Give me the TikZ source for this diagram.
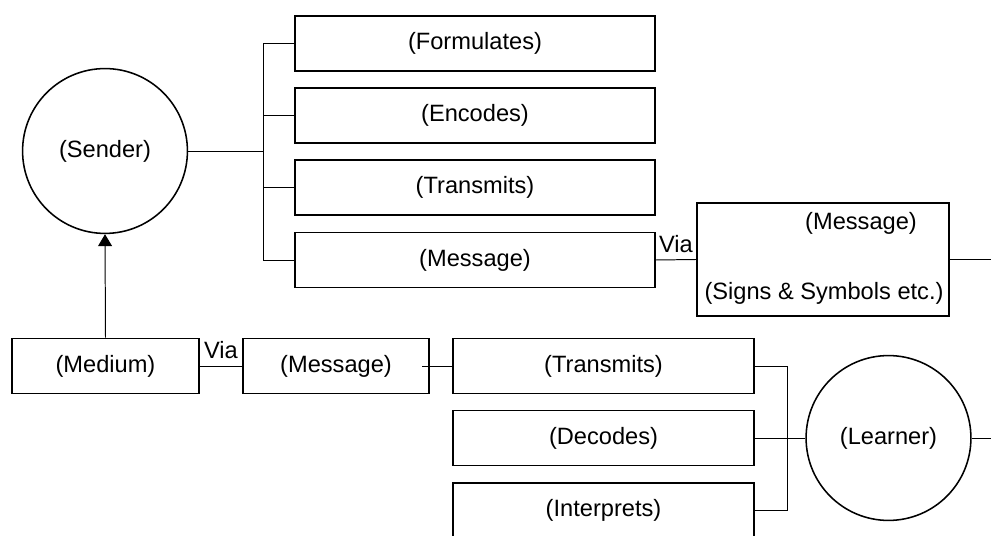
\documentclass[tikz,border=0pt]{standalone}
\usepackage{fontspec}
\setmainfont{Liberation Sans}
\usetikzlibrary{positioning}
\usetikzlibrary{arrows.meta}
\tikzset{
    boxnode/.style = {rectangle, draw=black, line width=1.4pt, inner sep=0pt, minimum height=1.375cm},
    roundnode/.style = {circle, draw=black, line width=1.1pt, inner sep=0pt, minimum size=4.12cm},
    textnode/.style = {inner sep=0pt},
    edgen/.style = {-, line width=0.7pt, black},
    edgea/.style = {-{Triangle[width=0.35cm,length=0.3cm]}, line width=0.7pt, black}, % upward
    vianode/.style = {above=0.17cm, inner sep=0pt}
}

\begin{document}
\begin{tikzpicture}[
	x=0.025cm, y=-0.025cm,
	font=\fontsize{16.8}{18}\selectfont]
  \useasboundingbox (0,0) rectangle (991,536);
  % sender side
  \node (sender) at (105,151) [roundnode] {(Sender)};
  \node (form) at (475,43.5) [boxnode,minimum width=9cm] {(Formulates)};
  \node (enc) at (475,115.5) [boxnode,minimum width=9cm] {(Encodes)};
  \node (trans) at (475,187.5) [boxnode,minimum width=9cm] {(Transmits)};
  \node (msg) at (475,260) [boxnode,minimum width=9cm] {(Message)};
  \node (viabox) at (823,259.5) [boxnode,minimum width=6.3cm,minimum height=2.825cm] {};
  \node (viamsg) at (861,223) [textnode] {(Message)};
  \node (viasign) at (824,293) [textnode] {(Signs \& Symbols etc.)};
  \coordinate (topbar) at (263,0);
  \coordinate (rightend1) at (991,259.5);
  % learner side
  \node (medium) at (105.5,366) [boxnode,minimum width=4.675cm] {(Medium)};
  \node (msgb) at (336,366) [boxnode,minimum width=4.65cm] {(Message)};
  \node (transb) at (603.5,366) [boxnode,minimum width=7.525cm] {(Transmits)};
  \node (dec) at (603.5,438) [boxnode,minimum width=7.525cm] {(Decodes)};
  \node (interp) at (603.5,510.5) [boxnode,minimum width=7.525cm] {(Interprets)};
  \node (learner) at (888.5,438) [roundnode] {(Learner)};
  \coordinate (botbar) at (787,0);
  \coordinate (rightend2) at (991,438);

  \draw[edgen] (sender.east) -- (sender.east -| topbar);
  \draw[edgen] (form.west) -- (form.west -| topbar) -- (msg.west -| topbar) -- (msg.west);
  \draw[edgen] (enc.west) -- (enc.west -| topbar);
  \draw[edgen] (trans.west) -- (trans.west -| topbar);
  \draw[edgen] (msg.east) -- node[vianode] {Via} (viabox.west);
  \draw[edgen] (viabox.east) -- (rightend1);
  \draw[edgea] (medium.north) -- (sender.south);
  \draw[edgen] (medium.east) -- node[vianode] {Via} (msgb.west);
  \draw[edgen] ([xshift=-0.2cm]msgb.east) -- (transb.west);
  \draw[edgen] (transb.east) -- (transb.east -| botbar) -- (interp.east -| botbar) -- (interp.east);
  \draw[edgen] (dec.east) -- (learner.west);
  \draw[edgen] (learner.east) -- (rightend2);
\end{tikzpicture}
\end{document}
